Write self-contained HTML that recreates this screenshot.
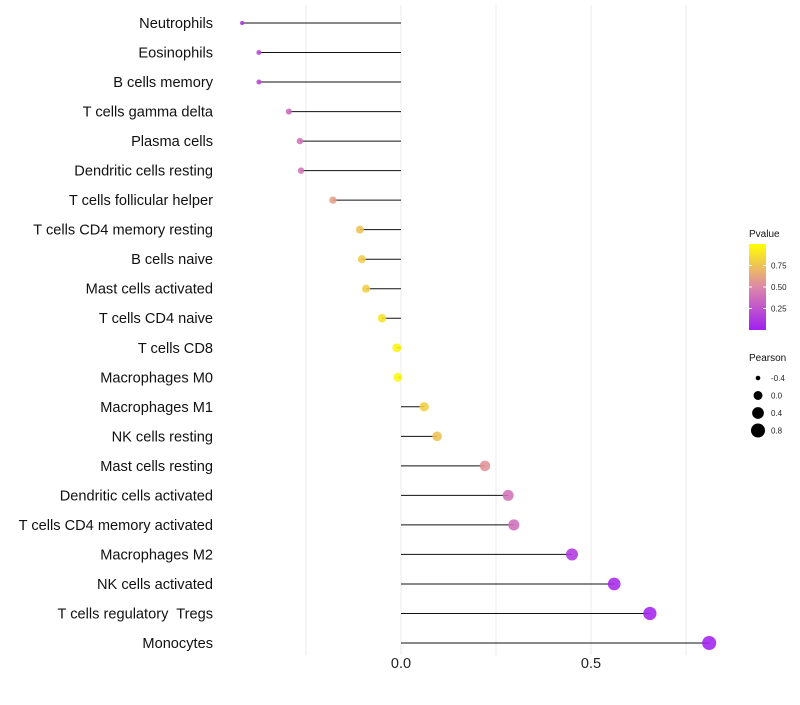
<!DOCTYPE html>
<html><head><meta charset="utf-8"><style>
body{margin:0;background:#fff;font-family:"Liberation Sans",sans-serif}
svg text{font-family:"Liberation Sans",sans-serif;white-space:pre}
</style></head><body>
<svg id="chart" width="800" height="700" xmlns="http://www.w3.org/2000/svg"></svg>
<script>
const categories=["Neutrophils","Eosinophils","B cells memory","T cells gamma delta","Plasma cells","Dendritic cells resting","T cells follicular helper","T cells CD4 memory resting","B cells naive","Mast cells activated","T cells CD4 naive","T cells CD8","Macrophages M0","Macrophages M1","NK cells resting","Mast cells resting","Dendritic cells activated","T cells CD4 memory activated","Macrophages M2","NK cells activated","T cells regulatory  Tregs","Monocytes"];
const pearson=[-0.418,-0.374,-0.374,-0.295,-0.266,-0.263,-0.179,-0.108,-0.103,-0.092,-0.05,-0.011,-0.008,0.061,0.095,0.221,0.282,0.297,0.45,0.561,0.655,0.811];
const pvalue=[0.1,0.2,0.2,0.35,0.4,0.4,0.6,0.75,0.78,0.8,0.88,0.96,0.97,0.8,0.75,0.55,0.4,0.38,0.12,0.05,0.02,0.01];
const xTicks=[0,0.5];
const gridVals=[-0.25,0,0.25,0.5,0.75];
const pTicks=[0.25,0.5,0.75];
const sizeLegend=[-0.4,0,0.4,0.8];
const svg=document.getElementById('chart');
const NS='http://www.w3.org/2000/svg';
const xs=v=>401+v*380;
const ys=i=>23+i*(620/21);
const rs=v=>Math.sqrt(Math.max(1,19.9+36.4*v));
function lerp(a,b,t){return a.map((x,i)=>Math.round(x+(b[i]-x)*t));}
function col(p){const s=[[160,32,240],[221,135,170],[255,255,0]];const c=p<0.5?lerp(s[0],s[1],p/0.5):lerp(s[1],s[2],(p-0.5)/0.5);return `rgb(${c.join(',')})`;}
function mk(tag,attrs,txt){const e=document.createElementNS(NS,tag);for(const k in attrs)e.setAttribute(k,attrs[k]);if(txt!==undefined)e.textContent=txt;svg.appendChild(e);return e;}
gridVals.forEach(v=>{const g=mk('line',{x1:xs(v),x2:xs(v),y1:5,y2:655,stroke:'#ebebeb','stroke-width':1});

});
xTicks.forEach(v=>{const t=mk('text',{x:xs(v),y:668,'text-anchor':'middle','font-size':14.5,fill:'#222'},v.toFixed(1));

});
categories.forEach((c,i)=>{
const y=ys(i);
const l=mk('text',{x:213,y:y+5,'text-anchor':'end','font-size':14.6,fill:'#111'},c);


const s=mk('line',{x1:xs(0),x2:xs(pearson[i]),y1:y,y2:y,stroke:'#111','stroke-width':1});


const p=mk('circle',{cx:xs(pearson[i]),cy:y,r:rs(pearson[i]),fill:col(pvalue[i]),'fill-opacity':0.88});


});
const lt=mk('text',{x:749,y:237,'font-size':10,fill:'#111'},'Pvalue');


const defs=mk('defs',{});
const gr=document.createElementNS(NS,'linearGradient');gr.setAttribute('id','pg');gr.setAttribute('x1',0);gr.setAttribute('y1',1);gr.setAttribute('x2',0);gr.setAttribute('y2',0);
for(let k=0;k<=10;k++){const st=document.createElementNS(NS,'stop');st.setAttribute('offset',k/10);st.setAttribute('stop-color',col(k/10));gr.appendChild(st);}
defs.appendChild(gr);
const bar=mk('rect',{x:749,y:244,width:17,height:86,fill:'url(#pg)'});


pTicks.forEach(v=>{const y=330-v*86;
mk('line',{x1:749,x2:752,y1:y,y2:y,stroke:'#fff'});mk('line',{x1:763,x2:766,y1:y,y2:y,stroke:'#fff'});
const t=mk('text',{x:771,y:y+3,'font-size':8,fill:'#222'},v.toFixed(2));

});
const st=mk('text',{x:749,y:361,'font-size':10,fill:'#111'},'Pearson');


sizeLegend.forEach((v,k)=>{const y=378+k*17.5;
const c=mk('circle',{cx:758,cy:y,r:rs(v),fill:'#000'});


const t=mk('text',{x:771,y:y+3,'font-size':8,fill:'#222'},v.toFixed(1));

});
</script>
</body></html>
